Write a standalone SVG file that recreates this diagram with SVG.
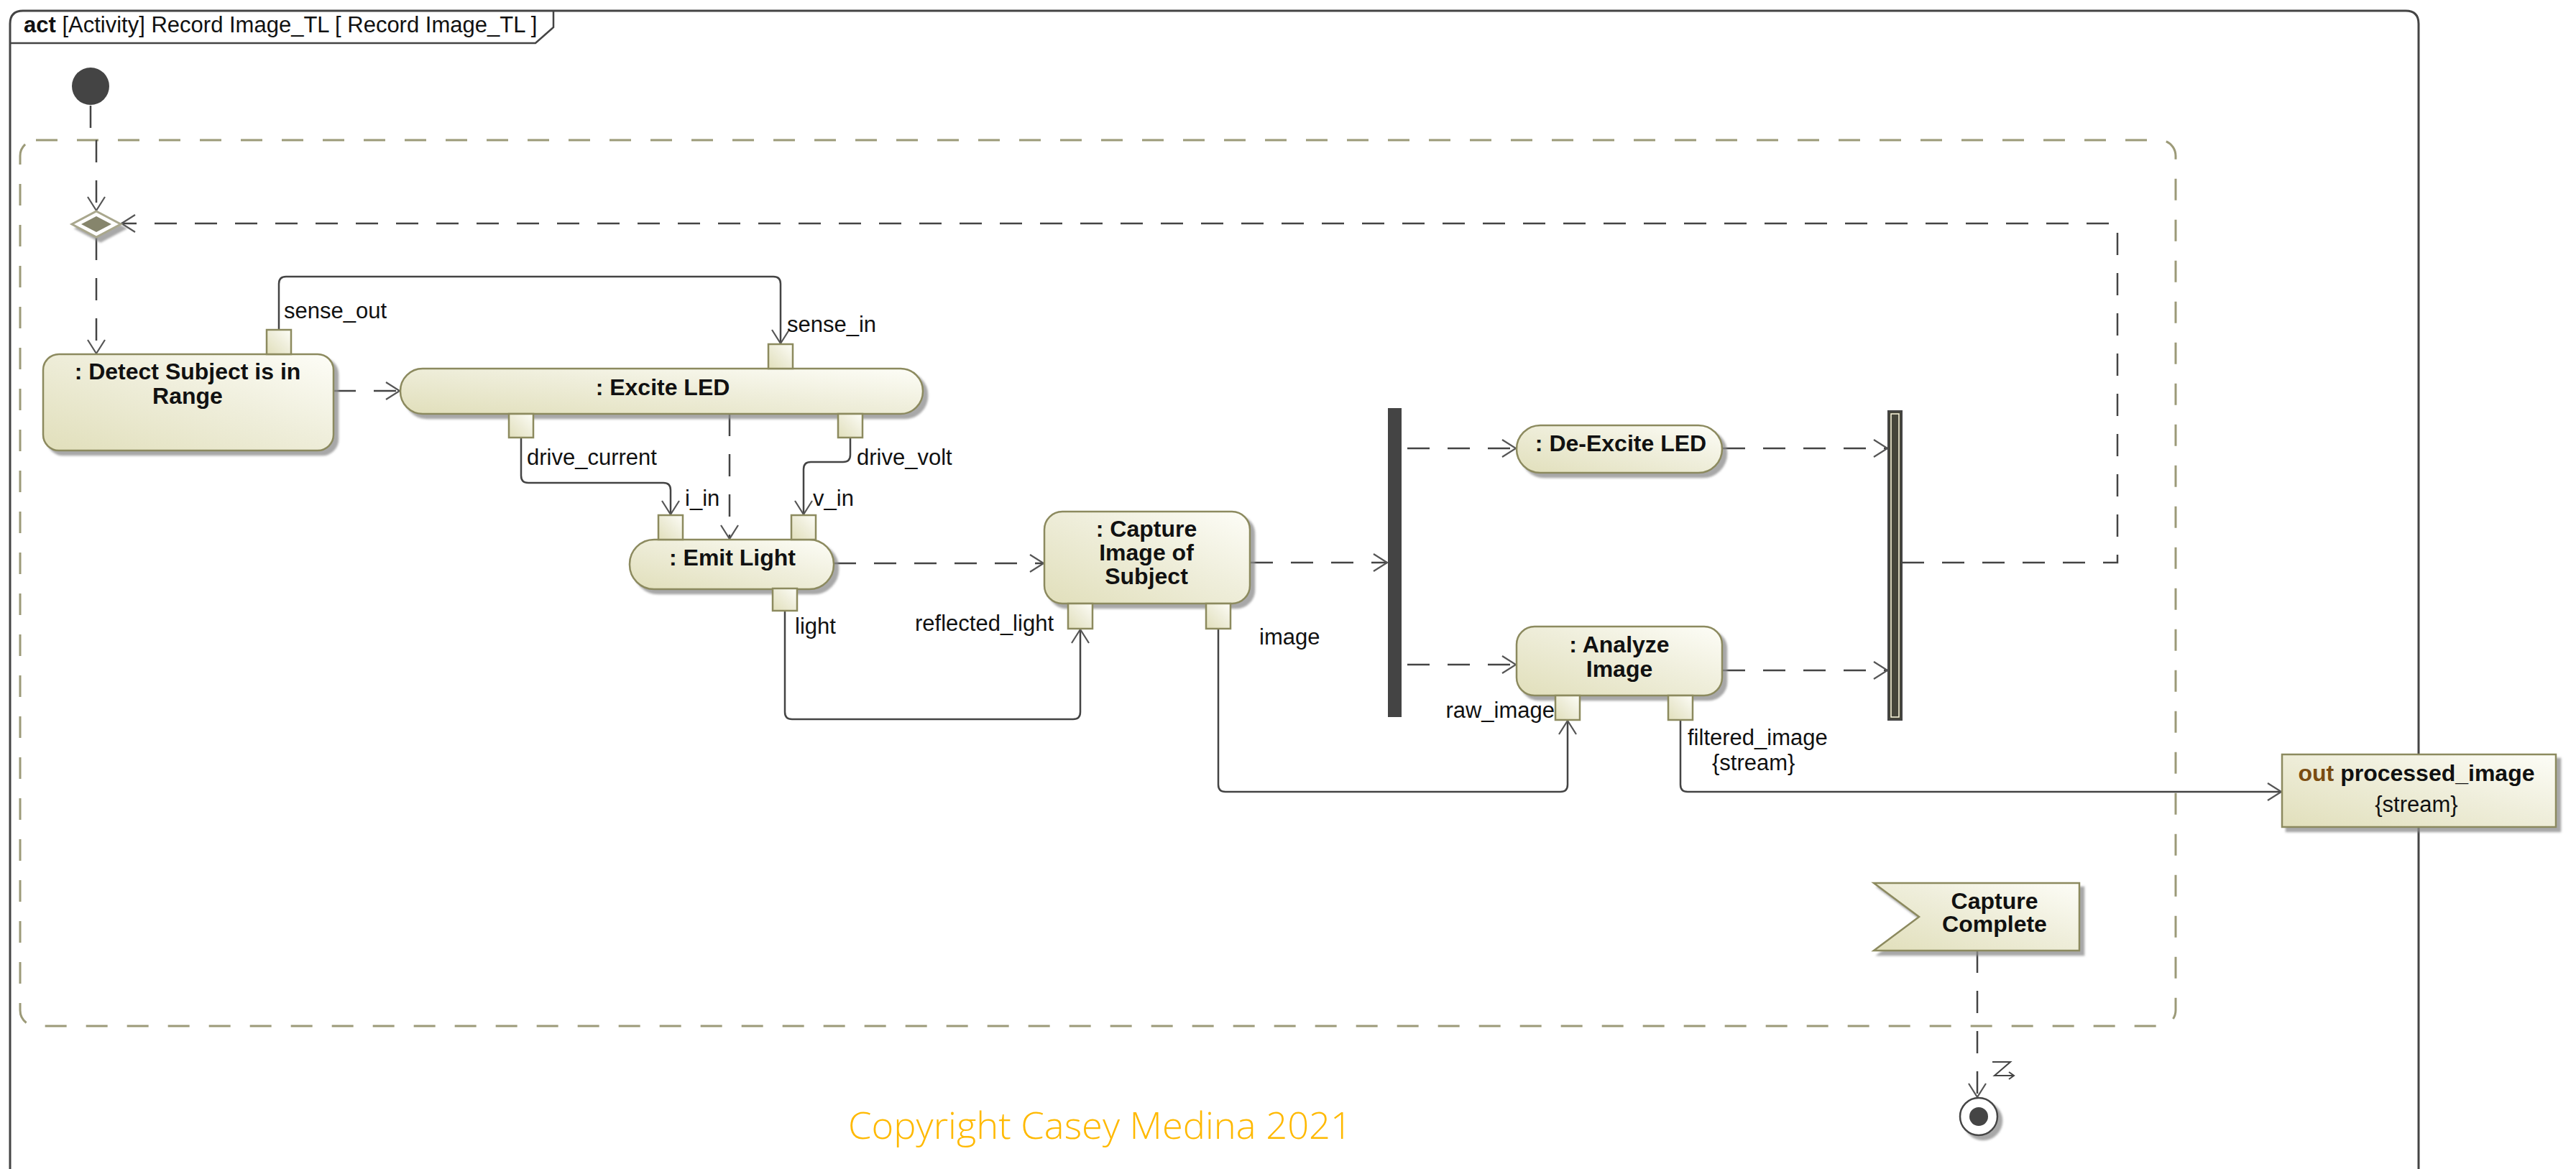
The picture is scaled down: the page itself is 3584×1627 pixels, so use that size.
<svg xmlns="http://www.w3.org/2000/svg" width="3584" height="1627" viewBox="0 0 3584 1627">
  <style>
    .node { fill: url(#cream); stroke: #8c8a5e; stroke-width: 2.5; filter: url(#shadow); }
    .pin { fill: url(#cream); stroke: #8c8a5e; stroke-width: 2.5; }
    .name { font-family: "Liberation Sans", Arial, sans-serif; font-size: 32px; font-weight: bold; fill: #111; text-anchor: middle; }
    .lbl { font-family: "Liberation Sans", Arial, sans-serif; font-size: 31px; fill: #111; }
    .flow { fill: none; stroke: #444; stroke-width: 2.5; marker-end: url(#open); }
    .ctrl { stroke-dasharray: 31 25; }
    .bar { fill: #444; }
  </style>
  <defs>
    <linearGradient id="cream" x1="0" y1="1" x2="1" y2="0">
      <stop offset="0" stop-color="#e1dfbb"/>
      <stop offset="0.55" stop-color="#efeedb"/>
      <stop offset="1" stop-color="#fdfdf7"/>
    </linearGradient>
    <filter id="shadow" x="-10%" y="-10%" width="130%" height="140%">
      <feDropShadow dx="6" dy="6" stdDeviation="1.5" flood-color="#8a8a8a" flood-opacity="0.75"/>
    </filter>
    <marker id="open" markerUnits="userSpaceOnUse" markerWidth="26" markerHeight="28" refX="21" refY="13" orient="auto">
      <path d="M2,1 L21,13 L2,25" fill="none" stroke="#555" stroke-width="2.2"/>
    </marker>
  </defs>

  <rect width="3584" height="1627" fill="#fff"/>

  <!-- activity frame and its name tab -->
  <g id="frame">
    <path d="M14,1640 V33 Q14,15 32,15 H3347 Q3365,15 3365,33 V1640" fill="none" stroke="#444" stroke-width="3"/>
    <path d="M14,60 H745 L770,38 V15" fill="none" stroke="#444" stroke-width="2.5"/>
    <text x="33" y="45" class="lbl" font-size="30"><tspan font-weight="bold">act</tspan> [Activity] Record Image_TL [ Record Image_TL ]</text>
  </g>

  <!-- interruptible activity region -->
  <rect id="interruptible-region" x="28" y="195" width="2999" height="1233" rx="22" fill="none" stroke="#9c9a78" stroke-width="3" stroke-dasharray="30 27"/>

  <!-- edges -->
  <g id="connectors">
    <path class="flow ctrl" d="M126,147 V196 H134 V293"/>
    <path class="flow ctrl" d="M134,331 V492"/>
    <path class="flow ctrl" d="M2646,783 H2946 V311 H169"/>
    <path class="flow ctrl" d="M464,544 H556"/>
    <path class="flow" d="M388,458 V395 Q388,385 398,385 H1076 Q1086,385 1086,395 V478"/>
    <path class="flow" d="M725,609 V662 Q725,672 735,672 H923 Q933,672 933,682 V716"/>
    <path class="flow" d="M1183,609 V633 Q1183,643 1173,643 H1128 Q1118,643 1118,653 V716"/>
    <path class="flow ctrl" d="M1015,576 V750"/>
    <path class="flow ctrl" d="M1160,784 H1452"/>
    <path class="flow" d="M1092,850 V991 Q1092,1001 1102,1001 H1493 Q1503,1001 1503,991 V876"/>
    <path class="flow" d="M1695,875 V1092 Q1695,1102 1705,1102 H2171 Q2181,1102 2181,1092 V1003"/>
    <path class="flow ctrl" d="M1740,783 H1930"/>
    <path class="flow ctrl" d="M1958,624 H2109"/>
    <path class="flow ctrl" d="M1958,925 H2109"/>
    <path class="flow ctrl" d="M2397,624 H2626"/>
    <path class="flow ctrl" d="M2397,933 H2626"/>
    <path class="flow" d="M2338,1002 V1092 Q2338,1102 2348,1102 H3174"/>
    <path class="flow ctrl" d="M2751,1323 V1527"/>
    <!-- interrupting edge mark -->
    <path d="M2772,1478 H2797 L2775,1497 H2802 M2795,1492 L2802,1497 L2795,1502" fill="none" stroke="#444" stroke-width="2"/>
  </g>

  <g id="initial">
    <circle cx="126" cy="120" r="26" fill="#444"/>
  </g>

  <g id="merge" filter="url(#shadow)">
    <polygon points="134,294 168,312 134,330 100,312" fill="#fff" stroke="#a9a78d" stroke-width="3"/>
    <polygon points="134,301 155,312 134,323 113,312" fill="#86856c"/>
  </g>

  <g id="detect-subject">
    <rect class="node" x="60" y="493" width="404" height="134" rx="22"/>
    <rect class="pin" x="371" y="459" width="34" height="34"/>
    <text class="name" x="261" y="528">: Detect Subject is in</text>
    <text class="name" x="261" y="562">Range</text>
    <text class="lbl" x="395" y="443">sense_out</text>
  </g>

  <g id="excite-led">
    <rect class="node" x="557" y="513" width="727" height="63" rx="31"/>
    <rect class="pin" x="1069" y="479" width="34" height="34"/>
    <rect class="pin" x="708" y="576" width="34" height="33"/>
    <rect class="pin" x="1166" y="576" width="34" height="33"/>
    <text class="name" x="922" y="550">: Excite LED</text>
    <text class="lbl" x="1095" y="462">sense_in</text>
    <text class="lbl" x="733" y="647">drive_current</text>
    <text class="lbl" x="1192" y="647">drive_volt</text>
  </g>

  <g id="emit-light">
    <rect class="node" x="876" y="751" width="284" height="69" rx="34"/>
    <rect class="pin" x="916" y="717" width="34" height="34"/>
    <rect class="pin" x="1101" y="717" width="34" height="34"/>
    <rect class="pin" x="1075" y="819" width="34" height="31"/>
    <text class="name" x="1019" y="787">: Emit Light</text>
    <text class="lbl" x="953" y="704">i_in</text>
    <text class="lbl" x="1131" y="704">v_in</text>
    <text class="lbl" x="1106" y="882">light</text>
  </g>

  <g id="capture-image">
    <rect class="node" x="1453" y="712" width="286" height="128" rx="25"/>
    <rect class="pin" x="1486" y="840" width="34" height="35"/>
    <rect class="pin" x="1678" y="840" width="34" height="35"/>
    <text class="name" x="1595" y="747">: Capture</text>
    <text class="name" x="1595" y="780">Image of</text>
    <text class="name" x="1595" y="813">Subject</text>
    <text class="lbl" x="1466" y="878" text-anchor="end">reflected_light</text>
    <text class="lbl" x="1752" y="897">image</text>
  </g>

  <g id="fork">
    <rect class="bar" x="1931" y="568" width="19" height="430"/>
  </g>

  <g id="de-excite-led">
    <rect class="node" x="2110" y="592" width="286" height="66" rx="33"/>
    <text class="name" x="2255" y="628">: De-Excite LED</text>
  </g>

  <g id="analyze-image">
    <rect class="node" x="2110" y="872" width="286" height="96" rx="25"/>
    <rect class="pin" x="2164" y="968" width="34" height="34"/>
    <rect class="pin" x="2321" y="968" width="34" height="34"/>
    <text class="name" x="2253" y="908">: Analyze</text>
    <text class="name" x="2253" y="942">Image</text>
    <text class="lbl" x="2163" y="999" text-anchor="end">raw_image</text>
    <text class="lbl" x="2348" y="1037">filtered_image</text>
    <text class="lbl" x="2382" y="1072">{stream}</text>
  </g>

  <g id="join">
    <rect x="2627" y="572" width="19" height="430" fill="#45453a" stroke="#444" stroke-width="2"/>
    <rect x="2631" y="576" width="11" height="422" fill="none" stroke="#fffbe0" stroke-width="1.5"/>
  </g>

  <g id="processed-image">
    <rect class="node" x="3175" y="1050" width="381" height="101"/>
    <text class="name" x="3362" y="1087"><tspan fill="#7a4c12">out</tspan> processed_image</text>
    <text class="lbl" x="3362" y="1130" text-anchor="middle">{stream}</text>
  </g>

  <g id="capture-complete">
    <polygon class="node" points="2607,1229 2893,1229 2893,1323 2607,1323 2670,1276"/>
    <text class="name" x="2775" y="1265">Capture</text>
    <text class="name" x="2775" y="1297">Complete</text>
  </g>

  <g id="final" filter="url(#shadow)">
    <circle cx="2753" cy="1554" r="26" fill="#fff" stroke="#444" stroke-width="2.5"/>
    <circle cx="2753" cy="1554" r="13" fill="#444"/>
  </g>

  <text x="1180" y="1585" font-family="'Open Sans', 'Liberation Sans', sans-serif" font-weight="300" font-size="52" fill="#ffb900" textLength="701" lengthAdjust="spacingAndGlyphs">Copyright Casey Medina 2021</text>
</svg>
